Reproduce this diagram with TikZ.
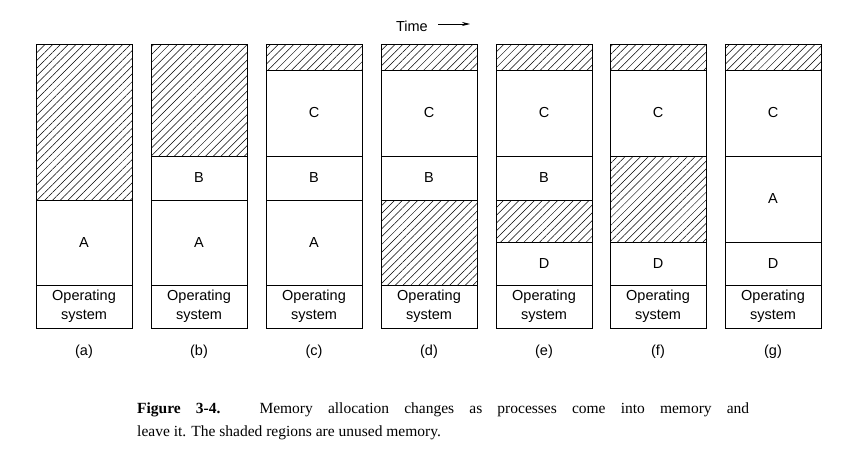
\documentclass[tikz,border=0pt]{standalone}
\usepackage{fontspec}
\setmainfont{Liberation Serif}
\newfontfamily\lab{Liberation Sans}
\usetikzlibrary{patterns.meta,arrows.meta}
\tikzset{
  hatch/.style={draw, line width=0.8pt, pattern={Lines[angle=45,distance=5.5pt,line width=0.5pt]}},
  blk/.style={draw, line width=0.8pt},
  txt/.style={font=\lab\fontsize{14.5}{19}\selectfont, align=center}
}
\newcommand{\reg}[5]{% x, y1, y2, style, text
  \draw[#4] (#1,#2) rectangle (#1+96,#3);
  \node[txt] at (#1+48,{(#2+#3)/2}) {#5};}
\begin{document}
\begin{tikzpicture}[x=1pt,y=-1pt]
\useasboundingbox (0,0) rectangle (851,455);
\foreach \x/\l in {36/a,151/b,266/c,381/d,496/e,610/f,725/g}{
  \reg{\x}{285}{328}{blk}{Operating\\system}
  \node[txt] (lab\l) at (\x+48,352) {(\l)};
}
% a
\reg{36}{44}{200}{hatch}{}
\reg{36}{200}{285}{blk}{A}
% b
\reg{151}{44}{156}{hatch}{}
\reg{151}{156}{200}{blk}{B}
\reg{151}{200}{285}{blk}{A}
% c
\reg{266}{44}{70}{hatch}{}
\reg{266}{70}{156}{blk}{C}
\reg{266}{156}{200}{blk}{B}
\reg{266}{200}{285}{blk}{A}
% d
\reg{381}{44}{70}{hatch}{}
\reg{381}{70}{156}{blk}{C}
\reg{381}{156}{200}{blk}{B}
\reg{381}{200}{285}{hatch}{}
% e
\reg{496}{44}{70}{hatch}{}
\reg{496}{70}{156}{blk}{C}
\reg{496}{156}{200}{blk}{B}
\reg{496}{200}{242}{hatch}{}
\reg{496}{242}{285}{blk}{D}
% f
\reg{610}{44}{70}{hatch}{}
\reg{610}{70}{156}{blk}{C}
\reg{610}{156}{242}{hatch}{}
\reg{610}{242}{285}{blk}{D}
% g
\reg{725}{44}{70}{hatch}{}
\reg{725}{70}{156}{blk}{C}
\reg{725}{156}{242}{blk}{A}
\reg{725}{242}{285}{blk}{D}
% time
\node[txt, anchor=east, inner sep=0pt] (time) at (428,26) {Time};
\coordinate (tend) at (470,24);
\draw[line width=0.8pt, -{Stealth[length=8pt,width=4pt]}] (438,24) -- (tend);
% caption
\node[anchor=north west, text width=612pt, align=justify, inner sep=0pt,
  font=\fontsize{15.5}{23}\selectfont] (cap) at (137,403)
  {\textbf{Figure 3-4.} Memory allocation changes as processes come into memory and\break leave it. The shaded regions are unused memory.};
\end{tikzpicture}
\end{document}
